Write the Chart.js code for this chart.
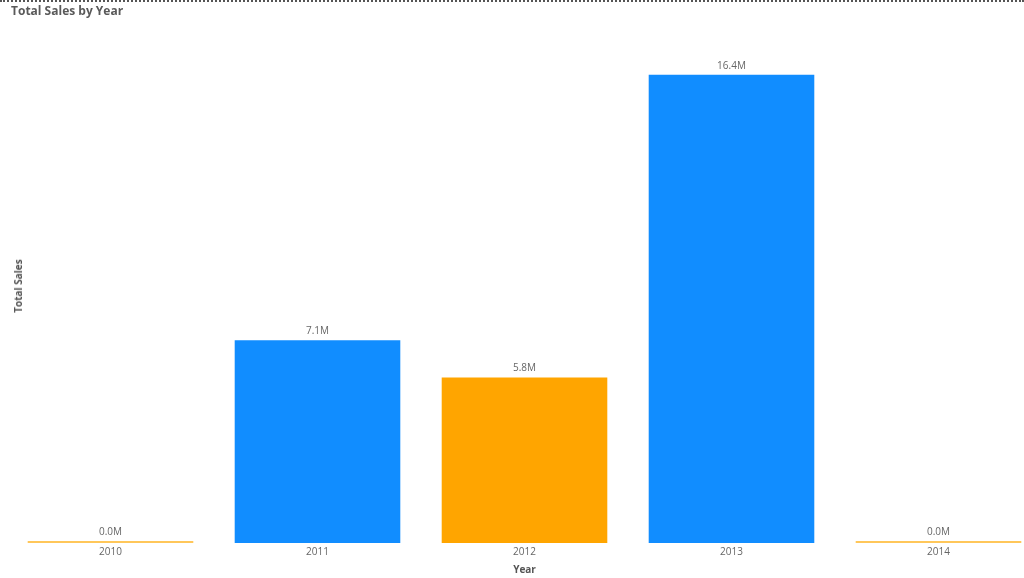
<!DOCTYPE html>
<html>
<head>
<meta charset="utf-8">
<title>Total Sales by Year</title>
<script src="https://cdn.jsdelivr.net/npm/chart.js@4"></script>
<style>
  html, body { margin: 0; padding: 0; background: #fff; overflow: hidden; }
  body { width: 1024px; height: 578px; position: relative; font-family: "Open Sans", "DejaVu Sans", sans-serif; }
  #topline { position: absolute; left: 0; top: 0; width: 1024px; border-top: 2px dotted #555; }
  #title { position: absolute; left: 11px; top: 2px; font-size: 12px; font-weight: bold; color: #5a5a5a; }
  #ytitle { position: absolute; left: 18px; top: 286px; font-size: 10px; font-weight: bold; color: #555;
            transform: translate(-50%, -50%) rotate(-90deg); white-space: nowrap; }
  #wrap { position: absolute; left: 0; top: 0; width: 1045px; height: 578px; }
</style>
</head>
<body>
<div id="wrap"><canvas id="myChart"></canvas></div>
<div id="topline"></div>
<div id="title">Total Sales by Year</div>
<div id="ytitle">Total Sales</div>
<script>
'use strict';

// chart data (sales in millions)
let years = ['2010', '2011', '2012', '2013', '2014'];
let sales = [0.02, 7.1, 5.8, 16.4, 0.02];
let barColors = ['#FFC75A', '#118DFF', '#FFA500', '#118DFF', '#FFC75A'];

// draws the "x.xM" labels above every bar
let valueLabels = {
    id: 'valueLabels',
    afterDatasetsDraw(chart) {
        let ctx = chart.ctx;
        let meta = chart.getDatasetMeta(0);
        ctx.save();
        ctx.font = '10px "Open Sans", "DejaVu Sans", sans-serif';
        ctx.fillStyle = '#666';
        ctx.textAlign = 'center';
        ctx.textBaseline = 'bottom';
        meta.data.forEach(function (bar, i) {
            ctx.fillText(sales[i].toFixed(1) + 'M', bar.x, bar.y - 4);
        });
        ctx.restore();
    }
};

let chartObject = {
    type: 'bar',
    data: {
        labels: years,
        datasets: [{
            label: 'Total Sales',
            data: sales,
            backgroundColor: barColors,
            borderWidth: 0,
            minBarLength: 2,
            categoryPercentage: 1,
            barPercentage: 0.8
        }]
    },
    options: {
        responsive: true,
        maintainAspectRatio: false,
        animation: false,
        layout: { padding: { left: 7, right: 3, top: 29, bottom: 0 } },
        plugins: {
            legend: { display: false },
            tooltip: { enabled: false }
        },
        scales: {
            x: {
                grid: { display: false, drawTicks: false, tickLength: 0 },
                border: { display: false },
                ticks: {
                    color: '#666',
                    padding: 3,
                    font: { size: 10, family: '"Open Sans", "DejaVu Sans", sans-serif' }
                },
                title: {
                    display: true,
                    text: 'Year',
                    color: '#555',
                    padding: { top: 3, bottom: 2 },
                    font: { size: 10, weight: 'bold', family: '"Open Sans", "DejaVu Sans", sans-serif' }
                }
            },
            y: {
                display: false,
                min: 0,
                max: 18
            }
        }
    },
    plugins: [valueLabels]
};

let ctx = document.getElementById('myChart').getContext('2d');
let myChart = new Chart(ctx, chartObject);
</script>
</body>
</html>
